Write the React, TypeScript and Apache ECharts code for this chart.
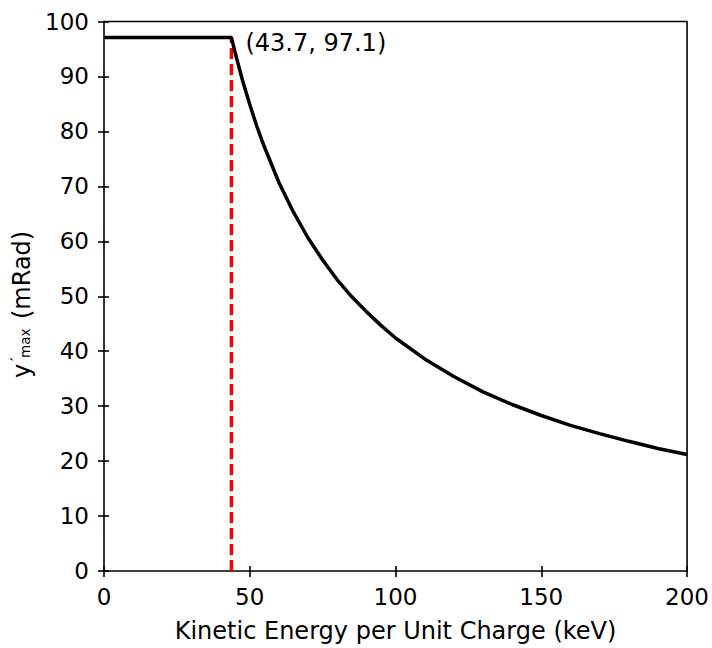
import React, { useEffect, useRef } from "react";
import * as echarts from "echarts";

const xTicks = [0, 50, 100, 150, 200];
const yTicks = [0, 10, 20, 30, 40, 50, 60, 70, 80, 90, 100];
const peak: [number, number] = [43.7, 97.1];
const curveX = [0, 43.7, 45, 47.5, 50, 52.5, 55, 60, 65, 70, 75, 80, 85, 90, 95, 100, 110, 120, 130, 140, 150, 160, 170, 180, 190, 200];
const curveY = [97.1, 97.1, 94.3, 89.3, 84.9, 80.8, 77.2, 70.7, 65.3, 60.6, 56.6, 53.0, 49.9, 47.2, 44.7, 42.4, 38.6, 35.4, 32.6, 30.3, 28.3, 26.5, 25.0, 23.6, 22.3, 21.2];
const xLabel = "Kinetic Energy per Unit Charge (keV)";

const FONT = "DejaVu Sans";
const FS = 24;
const TICK_FS = 23;

export default function App() {
  const ref = useRef<HTMLDivElement>(null);
  useEffect(() => {
    if (!ref.current) return;
    const chart = echarts.init(ref.current, null, { renderer: "svg" });
    const xMin = xTicks[0];
    const xMax = xTicks[xTicks.length - 1];
    const xInt = xTicks[1] - xTicks[0];
    const yMin = yTicks[0];
    const yMax = yTicks[yTicks.length - 1];
    const yInt = yTicks[1] - yTicks[0];
    const baseAxis = {
      type: "value" as const,
      splitLine: { show: false },
    };
    chart.setOption({
      animation: false,
      backgroundColor: "#fff",
      grid: {
        left: 104,
        right: 22,
        top: 21.5,
        bottom: 70,
        show: true,
        borderColor: "#000",
        borderWidth: 1.6,
        backgroundColor: "transparent",
      },
      xAxis: [
        {
          ...baseAxis,
          min: xMin,
          max: xMax,
          interval: xInt,
          position: "bottom",
          axisLine: { show: false },
          axisTick: { show: true, length: 6, lineStyle: { color: "#000", width: 1.6 } },
          axisLabel: { color: "#000", fontFamily: FONT, fontSize: TICK_FS, margin: 14 },
          name: xLabel,
          nameLocation: "middle",
          nameGap: 48,
          nameTextStyle: { color: "#000", fontFamily: FONT, fontSize: FS },
        },
        {
          ...baseAxis,
          min: xMin,
          max: xMax,
          interval: xInt,
          position: "bottom",
          axisLine: { show: false },
          axisTick: { show: true, inside: true, length: 5, lineStyle: { color: "#000", width: 1.6 } },
          axisLabel: { show: false },
        },
      ],
      yAxis: [
        {
          ...baseAxis,
          min: yMin,
          max: yMax,
          interval: yInt,
          position: "left",
          axisLine: { show: false },
          axisTick: { show: true, length: 6, lineStyle: { color: "#000", width: 1.6 } },
          axisLabel: { color: "#000", fontFamily: FONT, fontSize: TICK_FS, margin: 15 },
        },
        {
          ...baseAxis,
          min: yMin,
          max: yMax,
          interval: yInt,
          position: "left",
          axisLine: { show: false },
          axisTick: { show: true, inside: true, length: 5, lineStyle: { color: "#000", width: 1.6 } },
          axisLabel: { show: false },
        },
      ],
      series: [
        {
          type: "line",
          data: [
            [peak[0], yMin],
            [peak[0], peak[1]],
          ],
          showSymbol: false,
          symbol: "none",
          lineStyle: { color: "#ff0000", width: 3.5, type: [11, 5] },
          z: 2,
        },
        {
          type: "line",
          data: curveX.map((x, i) => [x, curveY[i]]),
          showSymbol: false,
          symbol: "none",
          lineStyle: { color: "#000", width: 3.5 },
          z: 3,
        },
        {
          type: "scatter",
          data: [peak],
          symbolSize: 0,
          itemStyle: { color: "#000", opacity: 1 },
          label: {
            show: true,
            position: "right",
            distance: 14,
            offset: [0, 6],
            color: "#000",
            opacity: 1,
            fontFamily: FONT,
            fontSize: FS,
            formatter: (p: any) => `(${p.value[0]}, ${p.value[1]})`,
          },
          z: 4,
        },
      ],
      graphic: [
        {
          type: "group",
          x: 22,
          y: 304,
          rotation: Math.PI / 2,
          children: [
            {
              type: "text",
              x: -74,
              y: 0,
              style: { text: "y", fontFamily: FONT, fontSize: FS, fill: "#000", align: "left", verticalAlign: "middle" },
            },
            {
              type: "text",
              x: -57,
              y: -6,
              style: { text: "′", fontFamily: FONT, fontSize: 16, fill: "#000", align: "left", verticalAlign: "middle" },
            },
            {
              type: "text",
              x: -54,
              y: 3,
              style: { text: "max", fontFamily: FONT, fontSize: 13.5, fill: "#000", align: "left", verticalAlign: "middle" },
            },
            {
              type: "text",
              x: -15,
              y: 0,
              style: { text: "(mRad)", fontFamily: FONT, fontSize: FS, fill: "#000", align: "left", verticalAlign: "middle" },
            },
          ],
        },
      ],
    });
    return () => chart.dispose();
  }, []);
  return <div ref={ref} style={{ position: "fixed", left: 0, top: 0, width: 712, height: 648 }} />;
}
